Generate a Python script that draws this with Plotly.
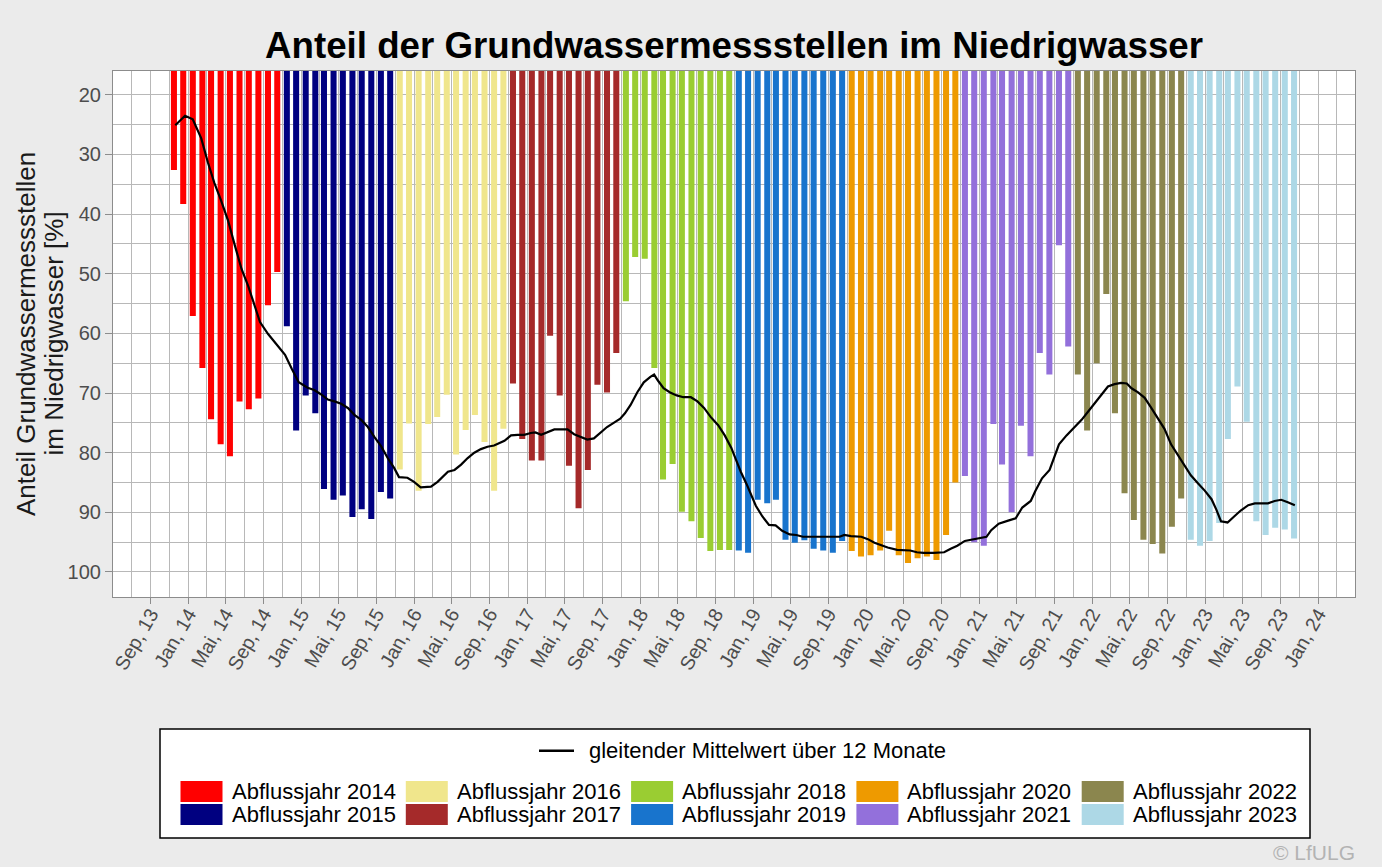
import plotly.graph_objects as go
import pandas as pd

# ---------------- data ----------------
years = [2014, 2015, 2016, 2017, 2018, 2019, 2020, 2021, 2022, 2023]
colors = ["#FF0000", "#000080", "#F0E68C", "#A52A2A", "#9ACD32",
          "#1874CD", "#EE9A00", "#9370DB", "#8B864E", "#ADD8E6"]

# monthly share (%) Nov..Oct of each Abflussjahr
aj2014 = [32.6, 38.3, 57.1, 65.8, 74.4, 78.6, 80.6, 71.4, 72.7, 70.9, 55.3, 49.7]
aj2015 = [58.8, 76.3, 70.4, 73.4, 86.1, 87.9, 87.2, 90.8, 89.5, 91.1, 86.6, 87.7]
aj2016 = [82.8, 75.1, 86.4, 75.2, 74.0, 70.3, 80.3, 76.2, 73.7, 78.2, 86.4, 76.0]
aj2017 = [68.4, 77.7, 81.3, 81.3, 60.4, 70.4, 82.2, 89.3, 82.9, 68.6, 69.9, 63.3]
aj2018 = [54.6, 47.2, 47.5, 65.8, 84.5, 81.9, 89.9, 91.5, 94.3, 96.5, 96.3, 96.3]
aj2019 = [96.4, 96.8, 87.9, 88.5, 87.9, 94.6, 95.1, 94.7, 96.1, 96.4, 96.8, 94.8]
aj2020 = [96.5, 97.4, 97.2, 96.4, 93.1, 97.2, 98.5, 97.7, 97.4, 98.0, 93.8, 85.0]
aj2021 = [83.9, 95.0, 95.6, 75.2, 82.0, 90.0, 75.5, 80.6, 63.3, 66.9, 45.2, 62.2]
aj2022 = [66.9, 76.3, 65.0, 53.4, 73.4, 86.8, 91.3, 94.6, 95.3, 96.9, 92.4, 87.7]
aj2023 = [94.6, 95.6, 94.8, 91.8, 77.7, 68.9, 74.8, 91.5, 93.8, 92.6, 92.9, 94.4]
year_values = [aj2014, aj2015, aj2016, aj2017, aj2018,
               aj2019, aj2020, aj2021, aj2022, aj2023]

# 12-month moving average: time in months after 15 Nov 2013, value in %
ma_offset_months = [
    0.14, 1.18, 2.0, 2.9, 3.6, 4.3, 5.0, 5.75, 6.46, 7.18,
    7.9, 8.6, 9.14, 10.0, 11.1, 11.8, 12.5, 13.25, 14.2, 14.9,
    15.6, 16.35, 17.05, 17.76, 18.47, 19.2, 19.9, 20.6, 21.3, 22.0,
    22.7, 23.4, 23.9, 24.8, 25.5, 26.2, 27.3, 28.0, 29.1, 29.8,
    30.5, 31.2, 31.9, 32.6, 33.3, 34.0, 35.1, 35.8, 36.5, 37.2,
    37.9, 38.4, 39.0, 39.7, 40.4, 41.1, 41.8, 42.5, 43.2, 43.9,
    44.6, 45.3, 46.0, 46.7, 47.4, 47.9, 48.5, 49.2, 49.9, 50.6,
    51.0, 51.4, 52.0, 52.7, 53.4, 54.1, 54.9, 55.6, 56.3, 57.0,
    57.8, 58.5, 59.2, 59.7, 60.2, 60.8, 61.3, 61.8, 62.5, 63.2,
    63.9, 64.6, 65.4, 66.1, 66.8, 68.0, 69.4, 70.7, 71.2, 71.9,
    73.0, 73.7, 74.4, 75.1, 75.8, 76.8, 77.5, 78.2, 78.9, 79.6,
    80.7, 81.8, 82.5, 83.2, 84.0, 84.7, 85.4, 86.3, 86.8, 87.6,
    88.6, 89.4, 90.1, 91.0, 91.5, 92.2, 93.0, 93.5, 94.0, 94.8,
    95.4, 96.4, 97.1, 97.8, 98.5, 99.2, 99.9, 100.6, 101.2, 101.7,
    102.4, 103.1, 103.8, 104.5, 105.2, 105.9, 106.6, 107.3, 108.0, 108.8,
    109.5, 110.2, 110.7, 111.2, 111.9, 112.6, 113.3, 114.1, 114.8, 115.5,
    116.2, 116.9, 117.6, 118.3, 119.05]
ma_values = [
    25.1, 23.5, 24.1, 27.3, 31.3, 34.8, 37.7, 41.1, 45.2, 49.2,
    52.1, 55.5, 58.1, 60.1, 62.2, 63.6, 65.9, 68.2, 69.1, 69.5,
    70.2, 71.1, 71.4, 71.8, 72.5, 73.7, 74.5, 75.7, 77.4, 78.9,
    80.9, 82.6, 84.1, 84.2, 84.9, 85.8, 85.7, 84.9, 83.2, 82.9,
    82.0, 80.9, 80.0, 79.4, 79.0, 78.8, 78.0, 77.1, 77.0, 77.0,
    76.7, 76.6, 77.0, 76.6, 76.1, 76.1, 76.1, 76.9, 77.4, 77.8,
    77.6, 76.6, 75.7, 75.0, 74.3, 73.4, 72.0, 69.9, 68.2, 67.3,
    66.9, 67.9, 69.2, 69.9, 70.4, 70.7, 70.7, 71.4, 72.5, 74.0,
    75.4, 77.1, 79.2, 81.2, 83.2, 85.2, 87.2, 88.9, 90.7, 92.1,
    92.2, 93.1, 93.7, 93.8, 94.1, 94.1, 94.1, 94.1, 93.8, 94.0,
    94.1, 94.5, 95.1, 95.5, 95.9, 96.3, 96.4, 96.4, 96.7, 96.8,
    96.8, 96.7, 96.1, 95.6, 94.8, 94.6, 94.4, 94.1, 93.0, 91.9,
    91.4, 91.0, 89.2, 88.1, 86.4, 84.3, 82.9, 80.9, 78.6, 77.1,
    76.1, 74.5, 73.1, 71.7, 70.2, 68.9, 68.5, 68.3, 68.4, 69.2,
    69.9, 70.8, 72.5, 74.3, 76.0, 78.6, 80.3, 82.0, 83.8, 85.2,
    86.4, 87.8, 89.5, 91.5, 91.7, 90.7, 89.7, 88.8, 88.5, 88.5,
    88.5, 88.1, 87.9, 88.3, 88.8]

x_tick_labels = ["Sep, 13", "Jan, 14", "Mai, 14", "Sep, 14", "Jan, 15", "Mai, 15",
                 "Sep, 15", "Jan, 16", "Mai, 16", "Sep, 16", "Jan, 17", "Mai, 17",
                 "Sep, 17", "Jan, 18", "Mai, 18", "Sep, 18", "Jan, 19", "Mai, 19",
                 "Sep, 19", "Jan, 20", "Mai, 20", "Sep, 20", "Jan, 21", "Mai, 21",
                 "Sep, 21", "Jan, 22", "Mai, 22", "Sep, 22", "Jan, 23", "Mai, 23",
                 "Sep, 23", "Jan, 24"]
y_tick_values = [20, 30, 40, 50, 60, 70, 80, 90, 100]

title_text = "Anteil der Grundwassermessstellen im Niedrigwasser"
y_title_lines = ["Anteil Grundwassermessstellen", "im Niedrigwasser [%]"]
line_label = "gleitender Mittelwert über 12 Monate"
credit = "© LfULG"

# ---------------- figure ----------------
FONT = "Liberation Sans, Arial, sans-serif"
W_FIG, H_FIG = 1382, 867
L, R, T, B = 113, 1355, 71, 597          # plot-area pixel box
PW, PH = R - L, B - T

def fx(px):
    return (px - L) / PW

def fy(py):
    return (B - py) / PH

fig = go.Figure()
DAY_MS = 86400000
for year, vals, color in zip(years, year_values, colors):
    months = pd.date_range(f"{year - 1}-11-01", periods=12, freq="MS") + pd.Timedelta(days=14)
    fig.add_trace(go.Bar(
        x=months, y=vals, width=19.5 * DAY_MS,
        marker=dict(color=color, line=dict(width=0)),
        name=f"Abflussjahr {year}", showlegend=False))

base = pd.Timestamp("2013-11-15")
ma_dates = [base + pd.Timedelta(days=m * 30.4375) for m in ma_offset_months]
fig.add_trace(go.Scatter(x=ma_dates, y=ma_values, mode="lines",
                         line=dict(color="black", width=2.2),
                         name=line_label, showlegend=False))

tick_dates = pd.date_range("2013-09-01", periods=len(x_tick_labels), freq="4MS")

GRID = "#B8B8B8"
AXC = "#8C8C8C"
TICKC = "#4D4D4D"

fig.update_layout(
    width=W_FIG, height=H_FIG,
    margin=dict(l=L, r=W_FIG - R, t=T, b=H_FIG - B, autoexpand=False),
    paper_bgcolor="#EBEBEB", plot_bgcolor="white",
    font=dict(family=FONT, color="black"),
    barmode="overlay", showlegend=False,
    title=dict(text=f"<b>{title_text}</b>", x=0.5, xref="paper", xanchor="center",
               y=1 - 45 / H_FIG, yref="container", yanchor="middle",
               font=dict(size=36.7, color="black", family=FONT)),
    xaxis=dict(type="date", range=["2013-05-02", "2024-04-29"],
               tickmode="array", tickvals=tick_dates, ticktext=x_tick_labels,
               tickangle=-60, tickfont=dict(size=19.5, color=TICKC, family=FONT),
               ticks="outside", ticklen=6, tickcolor=AXC, tickwidth=1.2,
               showgrid=True, gridcolor=GRID, gridwidth=1,
               minor=dict(dtick="M2", tick0="2013-07-01", showgrid=True,
                          gridcolor=GRID, gridwidth=1, ticks=""),
               showline=True, linecolor=AXC, linewidth=1.2, mirror=True,
               zeroline=False, automargin=False, fixedrange=True),
    yaxis=dict(range=[104.2, 16.0], tickmode="array", tickvals=y_tick_values,
               tickfont=dict(size=20, color=TICKC, family=FONT),
               ticks="outside", ticklen=7, tickcolor=AXC, tickwidth=1.2,
               showgrid=True, gridcolor=GRID, gridwidth=1,
               minor=dict(dtick=5, tick0=0, showgrid=True, gridcolor=GRID,
                          gridwidth=1, ticks=""),
               showline=True, linecolor=AXC, linewidth=1.2, mirror=True,
               zeroline=False, automargin=False, fixedrange=True),
)
try:
    fig.update_xaxes(ticklabelstandoff=-9)
except Exception:
    pass

annotations = []
shapes = []

# y-axis title (two centered lines)
for txt, xc in zip(y_title_lines, [26.0, 53.5]):
    annotations.append(dict(text=txt, x=fx(xc), y=fy((T + B) / 2), xref="paper", yref="paper",
                            textangle=-90, xanchor="center", yanchor="middle", showarrow=False,
                            font=dict(size=26, color="#1A1A1A", family=FONT)))

# legend box
shapes.append(dict(type="rect", xref="paper", yref="paper",
                   x0=fx(160), x1=fx(1310), y0=fy(838), y1=fy(729),
                   line=dict(color="black", width=1.5), fillcolor="white", layer="above"))
shapes.append(dict(type="line", xref="paper", yref="paper",
                   x0=fx(539), x1=fx(574), y0=fy(750.7), y1=fy(750.7),
                   line=dict(color="black", width=2.5)))
annotations.append(dict(text=line_label, x=fx(587), y=fy(750.7), xref="paper", yref="paper",
                        xanchor="left", yanchor="middle", showarrow=False,
                        font=dict(size=22, color="black", family=FONT)))
for i, (year, color) in enumerate(zip(years, colors)):
    c, r = i // 2, i % 2
    x0 = 180.5 + c * 225.3
    y0 = 781 + r * 23
    shapes.append(dict(type="rect", xref="paper", yref="paper",
                       x0=fx(x0), x1=fx(x0 + 42), y0=fy(y0 + 21), y1=fy(y0),
                       line=dict(width=0), fillcolor=color, layer="above"))
    annotations.append(dict(text=f"Abflussjahr {year}", x=fx(x0 + 49), y=fy(y0 + 10.5),
                            xref="paper", yref="paper", xanchor="left", yanchor="middle",
                            showarrow=False, font=dict(size=22, color="black", family=FONT)))

# credit (kept fully inside the page)
annotations.append(dict(text=credit, x=fx(1357), y=fy(866), xref="paper", yref="paper",
                        xanchor="right", yanchor="bottom", showarrow=False,
                        font=dict(size=21, color="#B3B3B3", family=FONT)))

fig.update_layout(annotations=annotations, shapes=shapes)
fig.write_html("out.html",
               config={"displayModeBar": False},
               post_script="document.body.style.margin='0';"
                           "document.body.style.background='#EBEBEB';")
